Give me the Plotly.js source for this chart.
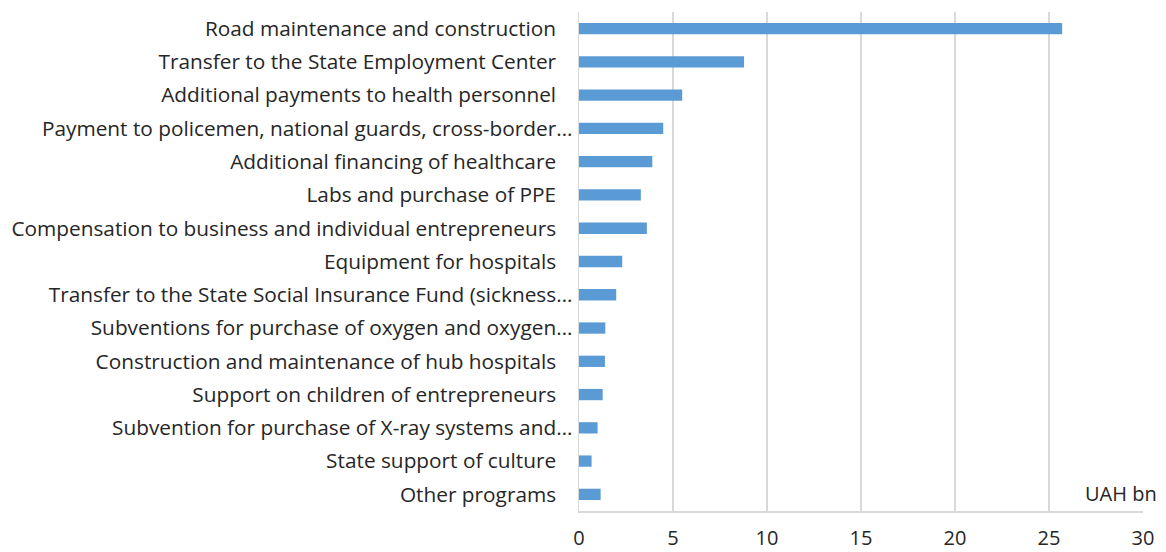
<!DOCTYPE html>
<html>
<head>
<meta charset="utf-8">
<script src="https://cdn.plot.ly/plotly-3.0.1.min.js"></script>
<style>html,body{margin:0;padding:0;background:#fff;}#chart{width:1166px;height:552px;}</style>
</head>
<body>
<div id="chart"></div>
<script>
const categories = [
  "Road maintenance and construction",
  "Transfer to the State Employment Center",
  "Additional payments to health personnel",
  "Payment to policemen, national guards, cross-border…",
  "Additional financing of healthcare",
  "Labs and purchase of PPE",
  "Compensation to business and individual entrepreneurs",
  "Equipment for hospitals",
  "Transfer to the State Social Insurance Fund (sickness…",
  "Subventions for purchase of oxygen and oxygen…",
  "Construction and maintenance of hub hospitals",
  "Support on children of entrepreneurs",
  "Subvention for purchase of X-ray systems and…",
  "State support of culture",
  "Other programs"
];
const values = [25.7, 8.78, 5.49, 4.48, 3.9, 3.29, 3.61, 2.3, 1.98, 1.4, 1.38, 1.26, 0.99, 0.67, 1.15];
const xTicks = [0, 5, 10, 15, 20, 25, 30];
const unitLabel = "UAH bn";

// full labels sit a little further from the axis than truncated ones (as in the source)
const yTickText = categories.map(c => c.endsWith("…") ? c : c + "\u00a0\u00a0\u00a0");

const font = "'Open Sans', sans-serif";
Plotly.newPlot('chart', [{
  type: 'bar',
  orientation: 'h',
  y: categories,
  x: values,
  marker: {color: '#5B9BD5', line: {width: 0}},
  hoverinfo: 'x+y'
}], {
  width: 1166, height: 552,
  margin: {l: 579, r: 23, t: 12, b: 41, pad: 0},
  paper_bgcolor: '#fff', plot_bgcolor: '#fff',
  bargap: 0.66,
  showlegend: false,
  font: {family: font, size: 18, color: '#262626'},
  xaxis: {
    range: [0, 30], tickvals: xTicks, ticktext: xTicks.map(String),
    showgrid: true, gridcolor: '#d9d9d9', gridwidth: 1.5,
    zeroline: false, showline: true, linecolor: '#d9d9d9', linewidth: 1.5,
    ticks: '', tickfont: {size: 20, family: font, color: '#262626'},
    ticklabelstandoff: 8, fixedrange: true
  },
  yaxis: {
    type: 'category', autorange: 'reversed',
    tickvals: categories, ticktext: yTickText,
    showgrid: false, zeroline: false, showline: true, linecolor: '#d9d9d9', linewidth: 1.5,
    ticks: '', tickfont: {size: 20.8, family: font, color: '#262626'},
    ticklabelstandoff: 1, fixedrange: true
  },
  annotations: [{
    text: unitLabel, xref: 'paper', yref: 'paper', x: 1.028, y: 0.036,
    xanchor: 'right', yanchor: 'middle', showarrow: false,
    font: {size: 20, family: font, color: '#262626'}
  }]
}, {displayModeBar: false, staticPlot: true});
</script>
</body>
</html>
